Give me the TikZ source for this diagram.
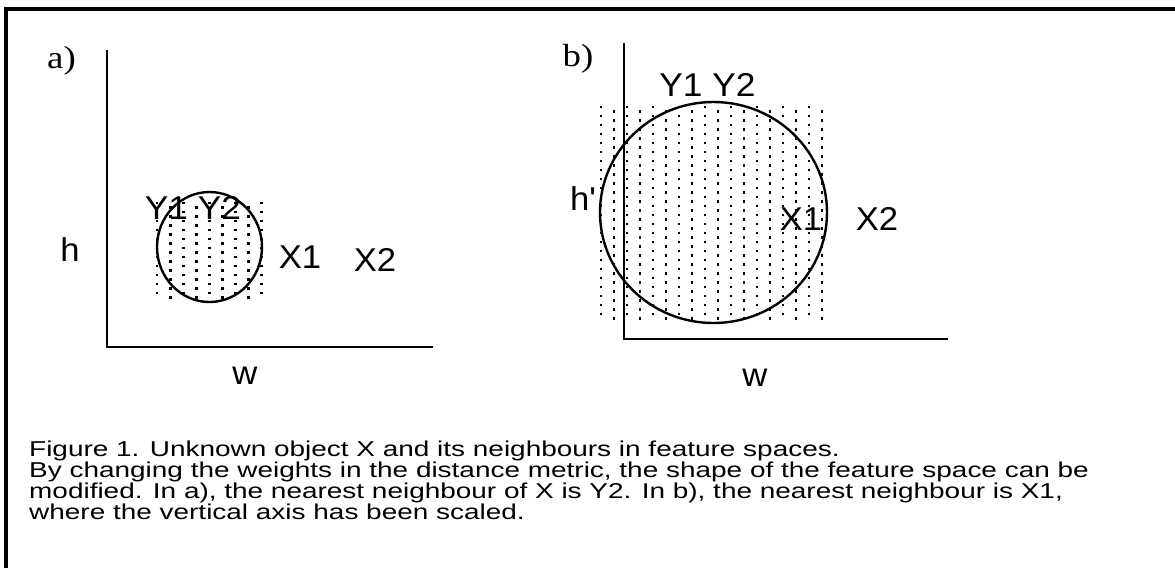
\documentclass[tikz,border=0pt]{standalone}
\usepackage{fontspec}
\setmainfont{Liberation Sans}
\newfontfamily\seriffont{Liberation Serif}
\begin{document}
\begin{tikzpicture}[x=1pt,y=-1pt,
  axis/.style={line width=2.5pt},
  ring/.style={line width=2.4pt},
  lbl/.style={font=\fontsize{33}{36}\selectfont, inner sep=0pt},
  panel/.style={font=\seriffont\fontsize{32}{34}\selectfont, inner sep=0pt},
  captext/.style={font=\fontsize{21.5}{23}\selectfont, inner sep=0pt, anchor=base west},
  dotsq/.style={fill=black}]
\useasboundingbox (0,0) rectangle (1175,568);
\fill[white] (0,0) rectangle (1175,568);
% frame (top and left only)
\draw[line width=4pt] (6,568) -- (6,9) -- (1175,9);

% ---------- panel a ----------
\node[panel] (pa) at (61.5,61) {\scalebox{1.15}[1]{a)}};
\coordinate (aTop) at (107,50);
\coordinate (aO) at (107,347);
\coordinate (aRight) at (433,347);
\draw[axis] (aTop) -- (aO) -- (aRight);
\foreach \c in {0,...,8}{
  \foreach \r in {0,...,10}{
    \pgfmathsetmacro\xx{157+\c*13.1}
    \pgfmathsetmacro\yy{203+\r*9+mod(\c,2)*4.5}
    \fill[dotsq] (\xx-1.4,\yy-1.2) rectangle (\xx+1.4,\yy+1.2);
  }
}
\draw[ring] (209.5,247) ellipse [x radius=52.5, y radius=55];
\node[lbl] (ha) at (70,250) {\scalebox{1.05}[1]{h}};
\node[lbl] (ya) at (193,207.5) {\scalebox{1.07}[1]{Y1 Y2}};
\node[lbl] (x1a) at (300,257) {\scalebox{1.05}[1]{X1}};
\node[lbl] (x2a) at (375,260) {\scalebox{1.05}[1]{X2}};
\node[lbl] (wa) at (245,376) {\scalebox{1.05}[1]{w}};

% ---------- panel b ----------
\node[panel] (pb) at (578,59) {\scalebox{1.15}[1]{b)}};
\coordinate (bTop) at (624,43);
\coordinate (bO) at (624,339);
\coordinate (bRight) at (948,339);
\draw[axis] (bTop) -- (bO) -- (bRight);
\foreach \c in {0,...,17}{
  \foreach \r in {0,...,23}{
    \pgfmathsetmacro\xx{601+\c*13}
    \pgfmathsetmacro\yy{107+\r*9+mod(\c,2)*4.5}
    \fill[dotsq] (\xx-1.4,\yy-1.2) rectangle (\xx+1.4,\yy+1.2);
  }
}
\draw[ring] (713.5,212.5) ellipse [x radius=113.5, y radius=110.5];
\node[lbl] (hb) at (583,199) {\scalebox{1.05}[1]{h\textquotesingle}};
\node[lbl] (yb) at (707.5,85) {\scalebox{1.07}[1]{Y1 Y2}};
\node[lbl] (x1b) at (801,219) {\scalebox{1.05}[1]{X1}};
\node[lbl] (x2b) at (877,219) {\scalebox{1.05}[1]{X2}};
\node[lbl] (wb) at (755,378) {\scalebox{1.05}[1]{w}};

% ---------- caption ----------
\node[captext] (c1) at (29,456) {\scalebox{1.30}[1]{Figure 1. Unknown object X and its neighbours in feature spaces.}};
\node[captext] (c2) at (29,477.3) {\scalebox{1.30}[1]{By changing the weights in the distance metric, the shape of the feature space can be}};
\node[captext] (c3) at (29,498.6) {\scalebox{1.30}[1]{modified. In a), the nearest neighbour of X is Y2. In b), the nearest neighbour is X1,}};
\node[captext] (c4) at (29,519.9) {\scalebox{1.30}[1]{where the vertical axis has been scaled.}};
\end{tikzpicture}
\end{document}
